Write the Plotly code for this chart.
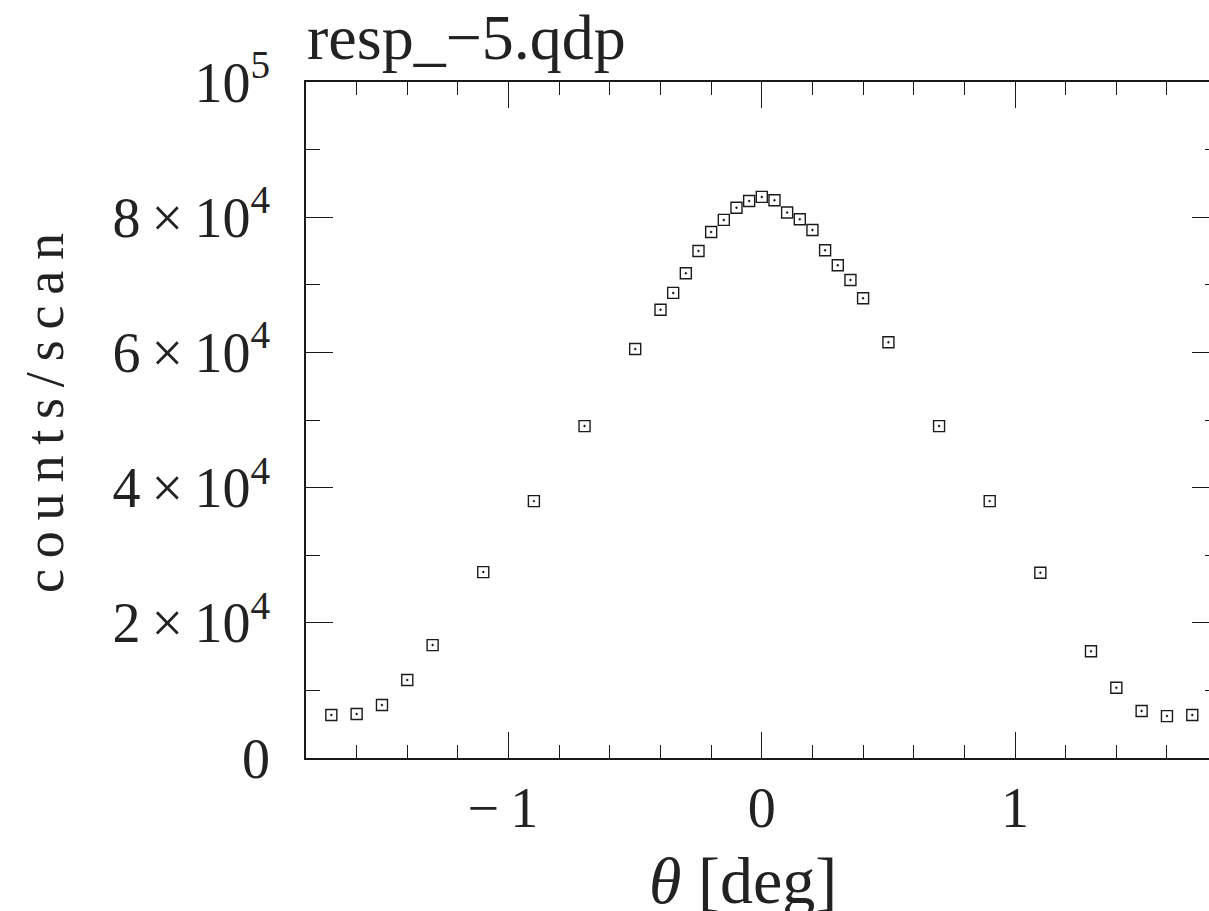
import plotly.graph_objects as go

theta = [-1.70, -1.60, -1.50, -1.40, -1.30, -1.10, -0.90, -0.70, -0.50, -0.40,
         -0.35, -0.30, -0.25, -0.20, -0.15, -0.10, -0.05, 0.00, 0.05, 0.10,
         0.15, 0.20, 0.25, 0.30, 0.35, 0.40, 0.50, 0.70, 0.90, 1.10,
         1.30, 1.40, 1.50, 1.60, 1.70]
counts = [6360, 6500, 7840, 11540, 16700, 27500, 38000, 49100, 60500, 66300,
          68800, 71700, 75000, 77800, 79600, 81400, 82400, 83000, 82500, 80700,
          79700, 78100, 75100, 72900, 70700, 68000, 61500, 49100, 38000, 27400,
          15800, 10400, 6950, 6200, 6360]

TS = "\u2009"  # thin space, mimics the wide Hershey letter spacing
y_tickvals = [0, 20000, 40000, 60000, 80000, 100000]
y_ticktext = ["0", f"2{TS}×{TS}10<sup>4</sup>", f"4{TS}×{TS}10<sup>4</sup>",
              f"6{TS}×{TS}10<sup>4</sup>", f"8{TS}×{TS}10<sup>4</sup>", "10<sup>5</sup>"]
x_tickvals = [-1, 0, 1]
x_ticktext = [f"−{TS}1{TS}", "0", "1"]

# body margin is removed via post_script, so figure pixels == page pixels
W, H = 1209, 911
L, T = 306, 82
PB = 758                      # plot bottom
B = H - PB
INK = "#1a1a1a"
FONT = "Liberation Serif"

fig = go.Figure()
fig.add_trace(go.Scatter(
    x=theta, y=counts, mode="markers",
    marker=dict(symbol="square-open-dot", size=11, color=INK, line=dict(width=1.4, color=INK)),
    showlegend=False, hoverinfo="x+y"))
# invisible helper trace for the top/right mirrored axes
fig.add_trace(go.Scatter(x=[theta[0]], y=[counts[0]], xaxis="x2", yaxis="y2",
                         mode="markers", marker=dict(opacity=0), showlegend=False,
                         hoverinfo="skip"))

xr = [-1.8, 1.766]
yr = [0, 100000]

common_line = dict(showline=True, linecolor=INK, linewidth=1.6, showgrid=False,
                   zeroline=False, ticks="inside", tickcolor=INK, tickwidth=1.4)

pw = W - L
ph = PB - T
ylab = TS.join("counts/scan")

fig.update_layout(
    width=W, height=H,
    margin=dict(l=L, r=0, t=T, b=B),
    paper_bgcolor="white", plot_bgcolor="white",
    font=dict(family=FONT, color=INK),
    xaxis=dict(range=xr, tickvals=x_tickvals, ticktext=x_ticktext, ticklen=26,
               minor=dict(dtick=0.2, tick0=0, ticklen=13, ticks="inside", tickcolor=INK, tickwidth=1.4),
               tickfont=dict(size=56, family=FONT, color="#222"), ticklabelstandoff=0,
               **common_line),
    yaxis=dict(range=yr, tickvals=y_tickvals, ticktext=y_ticktext, ticklen=27,
               minor=dict(dtick=10000, tick0=0, ticklen=14, ticks="inside", tickcolor=INK, tickwidth=1.4),
               tickfont=dict(size=56, family=FONT, color="#222"), ticklabelstandoff=23,
               **common_line),
    xaxis2=dict(range=xr, overlaying="x", side="top", anchor="y", showticklabels=False,
                tickvals=x_tickvals, ticklen=26,
                minor=dict(dtick=0.2, tick0=0, ticklen=13, ticks="inside", tickcolor=INK, tickwidth=1.4),
                **common_line),
    yaxis2=dict(range=yr, overlaying="y", side="right", anchor="x", showticklabels=False,
                tickvals=y_tickvals, ticklen=17, showline=False, showgrid=False, zeroline=False,
                ticks="inside", tickcolor=INK, tickwidth=1.4,
                minor=dict(dtick=10000, tick0=0, ticklen=4, ticks="inside", tickcolor=INK, tickwidth=1.4)),
    annotations=[
        dict(text="resp_−5.qdp", xref="paper", yref="paper",
             x=(305 - L) / pw, y=(PB - 37) / ph, xanchor="left", yanchor="middle",
             showarrow=False, font=dict(family=FONT, size=64, color="#222")),
        dict(text=ylab, textangle=-90, xref="paper", yref="paper",
             x=(45 - L) / pw, y=(PB - 413) / ph, xanchor="center", yanchor="middle",
             showarrow=False, font=dict(family=FONT, size=54, color="#222")),
        dict(text="<i>θ</i> [deg]", xref="paper", yref="paper",
             x=(743 - L) / pw, y=(PB - 842) / ph, xanchor="center", yanchor="top",
             showarrow=False, font=dict(family=FONT, size=66, color="#222")),
    ],
)

fig.write_html(
    "out.html",
    config={"displayModeBar": False},
    post_script="document.body.style.margin='0';document.body.style.overflow='hidden';",
)
